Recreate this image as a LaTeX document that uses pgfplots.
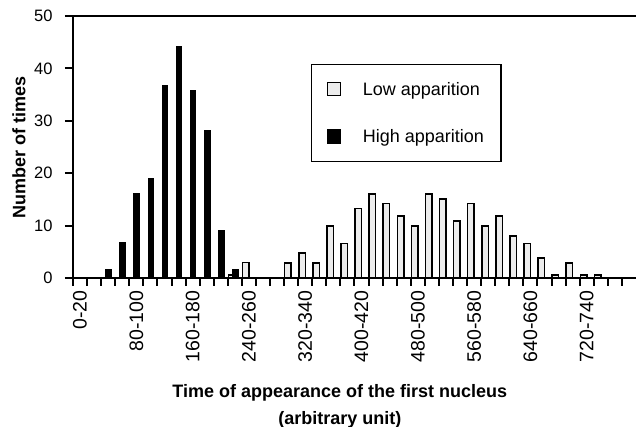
\documentclass[border=0pt]{standalone}
\usepackage{fontspec}
\setmainfont{Liberation Sans}
\usepackage{pgfplots}
\pgfplotsset{compat=1.18}
\begin{document}
\begin{tikzpicture}
\path[use as bounding box] (-73pt,-149pt) rectangle (563pt,278pt);
\begin{axis}[
  at={(0pt,0pt)}, anchor=south west,
  scale only axis, width=563pt, height=262pt,
  xmin=0, xmax=800, ymin=0, ymax=50,
  clip=false,
  axis lines=left,
  axis line style={-, line width=2.5pt},
  tick align=outside,
  major tick length=8pt,
  tick style={line width=2pt, black},
  xtick={0,20,...,780},
  xticklabels={},
  extra x ticks={10,90,170,250,330,410,490,570,650,730},
  extra x tick labels={0-20,80-100,160-180,240-260,320-340,400-420,480-500,560-580,640-660,720-740},
  extra x tick style={major tick length=0pt, xticklabel shift=9pt, tick label style={rotate=90, anchor=east, font=\fontsize{19.5}{20}\selectfont}},
  ytick={0,10,...,50},
  yticklabel shift=9pt,
  yticklabel style={font=\fontsize{16.5}{18}\selectfont},
  /pgf/number format/assume math mode=true,
  ylabel={Number of times},
  ylabel style={font=\fontsize{18}{20}\selectfont\bfseries, at={(axis description cs:-0.0959,0.5)}, anchor=center},
  xlabel={Time of appearance of the first nucleus\\(arbitrary unit)},
  xlabel style={font=\fontsize{18}{27}\selectfont\bfseries, align=center, at={(axis description cs:0.474,0)}, anchor=north, yshift=-103pt},
  legend style={at={(axis description cs:0.4227,0.8168)}, anchor=north west, draw=black, line width=1.3pt, font=\fontsize{18}{20}\selectfont, row sep=29pt, inner xsep=15pt, inner ysep=15.5pt, /tikz/every odd column/.append style={column sep=20pt}},
  legend cell align=left,
  legend image code/.code={\draw[#1, line width=1.2pt] (0pt,-6pt) rectangle (13pt,7pt);},
]
\addplot[ybar, bar width=6.5pt, bar shift=-3.2pt, fill=gray!15, draw=black, line width=1.5pt] coordinates {
(230,0.6) (250,3.0) (310,2.9) (330,4.8) (350,2.9) (370,9.9) (390,6.6) (410,13.3)
(430,16.0) (450,14.2) (470,11.8) (490,9.9) (510,16.0) (530,15.1) (550,10.9)
(570,14.2) (590,9.9) (610,11.8) (630,8.0) (650,6.6) (670,3.8) (690,0.6)
(710,2.9) (730,0.6) (750,0.6)
};
\addlegendentry{Low apparition}
\addplot[ybar, bar width=5.7pt, bar shift=0.5pt, fill=black, draw=black, line width=1pt] coordinates {
(50,1.7) (70,6.8) (90,16.2) (110,19.0) (130,36.7) (150,44.1) (170,35.8)
(190,28.2) (210,9.1) (230,1.6)
};
\addlegendentry{High apparition}
\draw[line width=2.5pt] (axis description cs:0,1) -- (axis description cs:1,1);
\end{axis}
\end{tikzpicture}
\end{document}
